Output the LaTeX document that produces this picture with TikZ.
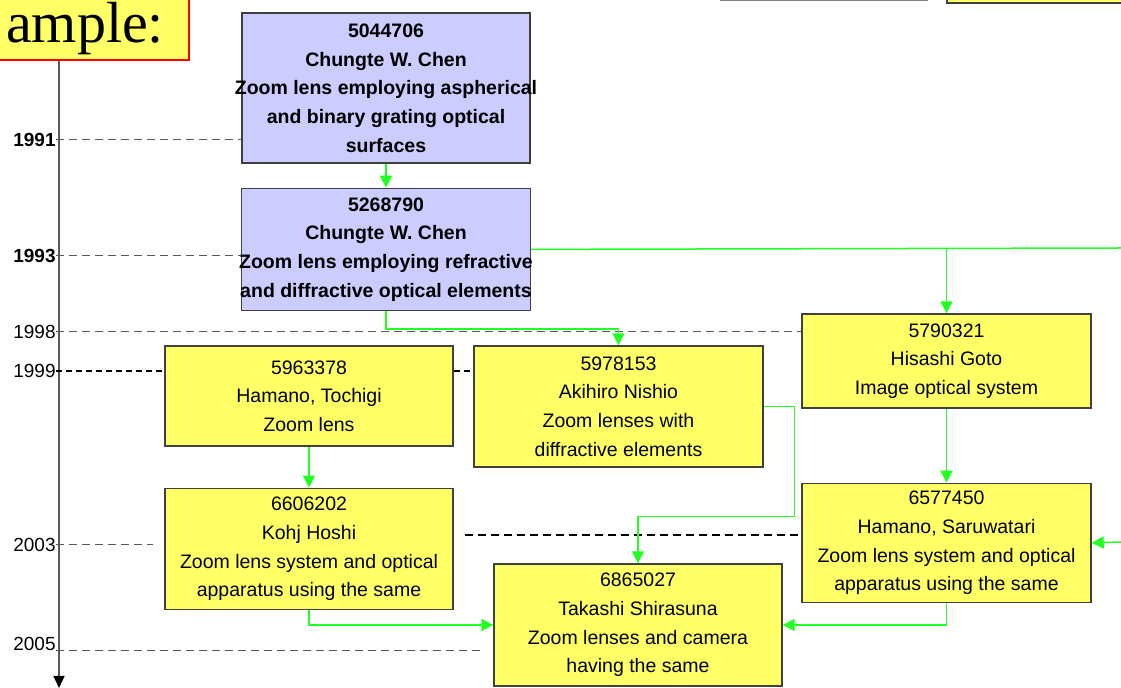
\documentclass[tikz,border=0pt]{standalone}
\usepackage{fontspec}
\setmainfont{Liberation Sans}
\newfontfamily\exfont{Liberation Serif}
\usetikzlibrary{positioning, arrows.meta}

\definecolor{patentyellow}{HTML}{FFFF66}
\definecolor{patentblue}{HTML}{CCCCFF}
\definecolor{citegreen}{HTML}{22FF22}
\definecolor{boxgray}{HTML}{404040}

\begin{document}
\begin{tikzpicture}[x=0.5pt, y=-0.5pt,
		every label/.style={align=center, inner sep=0pt, font=\fontsize{9.75}{14.35}\selectfont},
		chenlabel/.style={font=\fontsize{9.75}{14.35}\selectfont\bfseries},
		patent/.style={draw=boxgray, line width=0.7pt, fill=patentyellow, inner sep=0pt},
		chen/.style={patent, fill=patentblue},
		citeline/.style={draw=citegreen, line width=0.75pt},
		cite/.style={citeline, -{Triangle[length=6pt, width=6pt]}},
		year/.style={font=\fontsize{9.5}{11}\selectfont, anchor=east, inner sep=0pt},
		yearline/.style={draw=black!65, line width=0.5pt, dash pattern=on 4pt off 2.5pt}]
		\useasboundingbox (0,0) rectangle (1121,688);
		\clip (0,0) rectangle (1121,688);
		
		% cut-off boxes at the top edge
		\node[draw=red, line width=1pt, fill=patentyellow, font=\exfont\fontsize{29}{34}\selectfont, inner xsep=12.5pt, inner ysep=2.5pt, anchor=south east] (ex) at (190,61) {ample:};
		\draw[draw=gray, line width=0.75pt, fill=white] (721,-40) rectangle (927,0.5);
		\draw[patent] (947,-40) rectangle (1140,3);
		
		% time axis
		\draw[draw=black!65, line width=0.75pt, -{Triangle[length=6pt, width=5.5pt, color=black]}] (ex.south -| 59,0) -- (59,688);
		\node[year] (y91) at (56,140) {\bfseries 1991};
		\node[year] (y93) at (56,256) {\bfseries 1993};
		\node[year] (y98) at (56,332) {1998};
		\node[year] (y99) at (56,371) {1999};
		\node[year] (y03) at (56,545) {2003};
		\node[year, anchor=base east] (y05) at (56,651) {2005};
		
		% patents
		\node[chen, minimum width=144pt, minimum height=75pt, label={[chenlabel]center:5044706\\Chungte W. Chen\\Zoom lens employing aspherical\\and binary grating optical\\surfaces}] (a) at (386,88) {};
		\node[chen, minimum width=144.5pt, minimum height=61pt, below=12pt of a, label={[chenlabel]center:5268790\\Chungte W. Chen\\Zoom lens employing refractive\\and diffractive optical elements}] (b) {};
		\node[patent, minimum width=144.5pt, minimum height=47pt, label={center:5790321\\Hisashi Goto\\Image optical system}] (c) at (946.5,361) {};
		\node[patent, minimum width=144pt, minimum height=50pt, label={center:5963378\\Hamano, Tochigi\\Zoom lens}] (d) at (309,396) {};
		\node[patent, minimum width=144.5pt, minimum height=60.5pt, label={center:5978153\\Akihiro Nishio\\Zoom lenses with\\diffractive elements}] (e) at (618.5,406.5) {};
		\node[patent, minimum width=144pt, minimum height=60.5pt, below=20.5pt of d, label={center:6606202\\Kohj Hoshi\\Zoom lens system and optical\\apparatus using the same}] (f) {};
		\node[patent, minimum width=144.5pt, minimum height=59.5pt, below=37pt of c, label={center:6577450\\Hamano, Saruwatari\\Zoom lens system and optical\\apparatus using the same}] (g) {};
		\node[patent, minimum width=144pt, minimum height=61pt, label={center:6865027\\Takashi Shirasuna\\Zoom lenses and camera\\having the same}] (h) at (638,625) {};
		
		% year lines
		\draw[yearline] (y91.east) -- (y91 -| a.west);
		\draw[yearline] (y93.east) -- (y93 -| b.west);
		\draw[yearline] (y98.east) -- (y98 -| c.west);
		\draw[yearline, draw=black, line width=0.8pt, dash pattern=on 3pt off 2pt] (y99.east) -- (y99 -| d.west);
		\draw[yearline, draw=black, line width=0.8pt, dash pattern=on 3pt off 2pt] (d.east |- y99) -- (e.west |- y99);
		\draw[yearline] (y03.east) -- ++(97,0);
		\draw[yearline, draw=black, line width=0.7pt] (465,535) -- (g.west |- 0,535);
		\draw[yearline] (y05.base east) -- (483,651);
		
		% citations
		\coordinate (offright) at (1121,542);
		\draw[cite] (a) -- (b);
		\draw[citeline] (b.east) -- (1121,248);
		\draw[cite] (c.north |- b.east) -- (c.north);
		\draw[cite] (b.south) -- ++(0,18) -| (e.north);
		\draw[cite] (d) -- (f);
		\draw[cite] (e.east) -- ++(31,0) -- ++(0,110) -| (h.north);
		\draw[cite] (c) -- (g);
		\draw[cite] (f.south) |- (h.west);
		\draw[cite] (g.south) |- (h.east);
		\draw[cite] (offright) -- (g.east);
	\end{tikzpicture}
\end{document}
